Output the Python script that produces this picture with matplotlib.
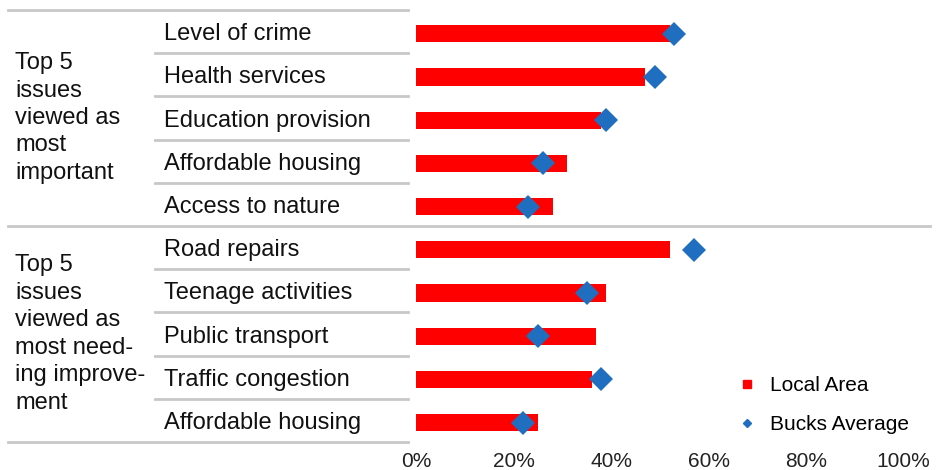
import matplotlib.pyplot as plt
from matplotlib.lines import Line2D
from matplotlib.transforms import blended_transform_factory

plt.rcParams['font.family'] = ['Liberation Sans', 'DejaVu Sans']

# categories, top to bottom
categories = ["Level of crime", "Health services", "Education provision",
              "Affordable housing", "Access to nature",
              "Road repairs", "Teenage activities", "Public transport",
              "Traffic congestion", "Affordable housing"]
local_area = [52, 47, 38, 31, 28, 52, 39, 37, 36, 25]
bucks_average = [53, 49, 39, 26, 23, 57, 35, 25, 38, 22]
group_labels = ["Top 5\nissues\nviewed as\nmost\nimportant",
                "Top 5\nissues\nviewed as\nmost need-\ning improve-\nment"]
x_ticks = [0, 20, 40, 60, 80, 100]
x_tick_labels = ["0%", "20%", "40%", "60%", "80%", "100%"]

W, H = 947, 470
fig = plt.figure(figsize=(W / 100, H / 100), dpi=100)
ax = fig.add_axes([416 / W, (H - 442) / H, (903.5 - 416) / W, 432 / H])

red = '#FF0000'
blue = '#1F6EBF'
grey = '#C8C8C8'

rows = [i + 0.55 for i in range(len(categories))]
ax.barh(rows, local_area, height=0.4, color=red, zorder=2)
ax.plot(bucks_average, rows, 'D', color=blue, markersize=12, markeredgewidth=0, zorder=3)

ax.set_xlim(0, 100)
ax.set_ylim(len(categories), 0)
ax.set_yticks([])
ax.set_xticks(x_ticks)
ax.set_xticklabels(x_tick_labels, fontsize=15, color='#222222')
ax.tick_params(axis='x', length=0, pad=7)
for s in ax.spines.values():
    s.set_visible(False)

tr = blended_transform_factory(fig.transFigure, ax.transData)

# table lines on the left
def hline(x0, x1, y):
    ax.plot([x0 / W, x1 / W], [y, y], color=grey, lw=2, transform=tr, clip_on=False)

hline(8, 408, 0)
hline(8, 930, 5)
hline(8, 408, 10)
for y in [1, 2, 3, 4, 6, 7, 8, 9]:
    hline(155, 408, y)

for i, name in enumerate(categories):
    fig.text(164 / W, i + 0.5, name, transform=tr, fontsize=17,
             va='center_baseline', ha='left', color='#111111')

for g, txt in enumerate(group_labels):
    fig.text(15 / W, g * 5 + 2.5, txt, transform=tr, fontsize=17,
             va='center', ha='left', linespacing=1.32, color='#111111')

handles = [Line2D([], [], marker='s', color=red, linestyle='none', markersize=6),
           Line2D([], [], marker='D', color=blue, linestyle='none', markersize=4.5)]
ax.legend(handles, ["Local Area", "Bucks Average"], loc='upper left',
          bbox_to_anchor=(739 / W, (H - 376) / H), bbox_transform=fig.transFigure,
          frameon=False, fontsize=15, handlelength=0.8, handletextpad=0.7,
          labelspacing=0.95, borderaxespad=0, borderpad=0)

fig.savefig('out.png', dpi=100)
